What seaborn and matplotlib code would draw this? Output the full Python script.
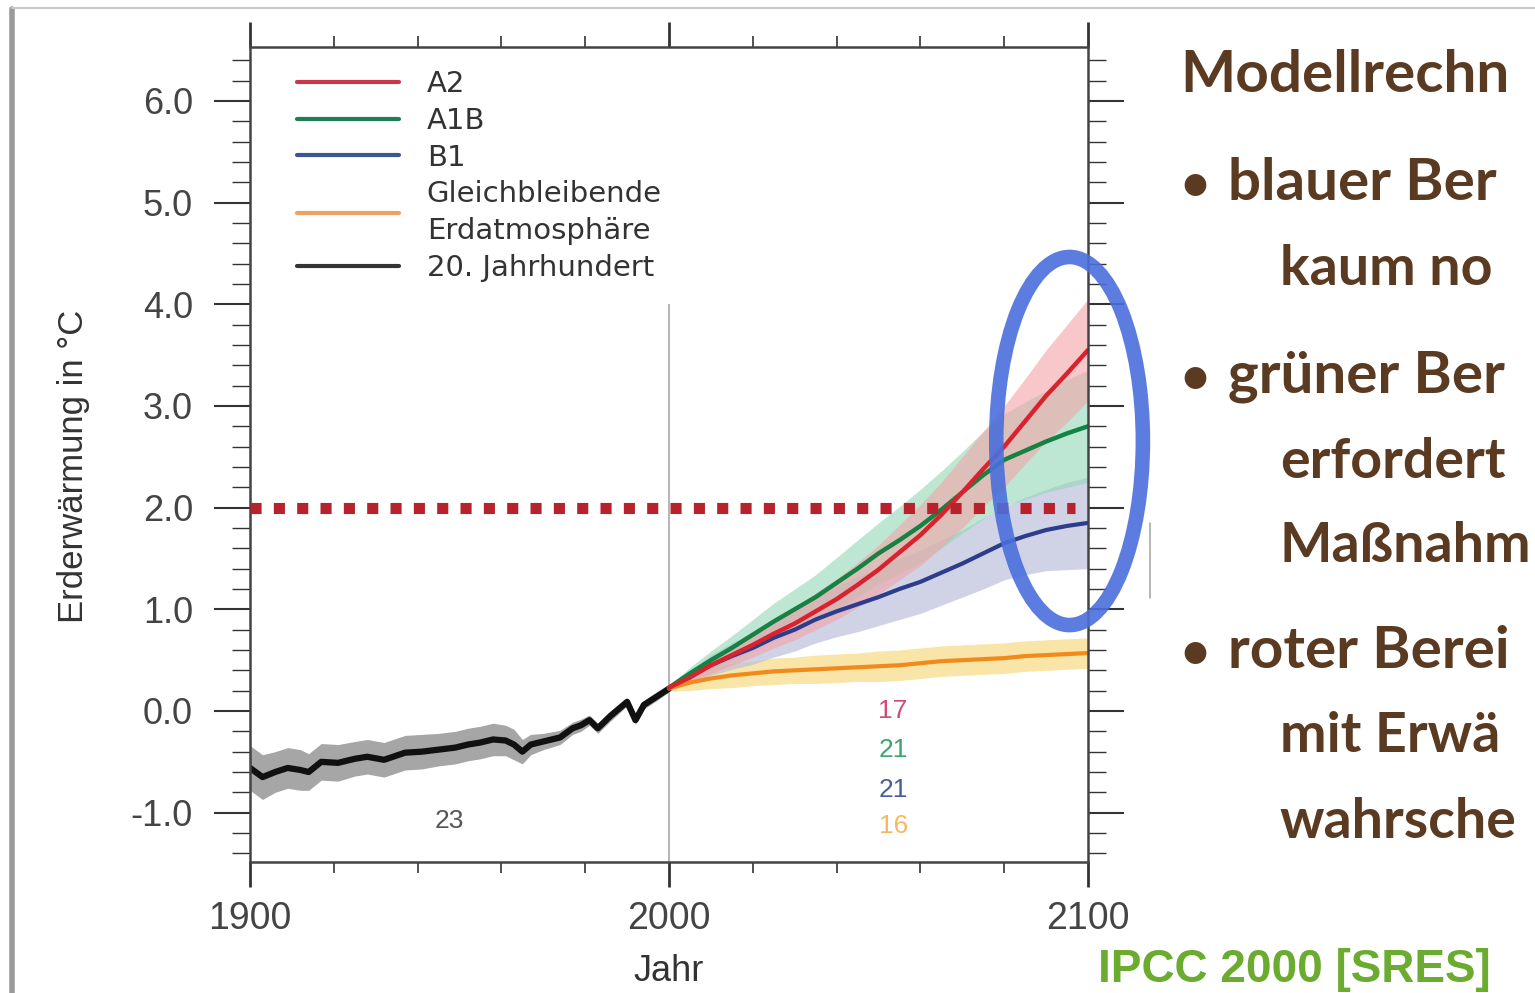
import matplotlib
matplotlib.use("Agg")
import matplotlib.pyplot as plt
import matplotlib.ticker as mticker
from matplotlib.patches import Ellipse
from matplotlib.lines import Line2D
import seaborn as sns
import pandas as pd
import numpy as np

sns.set_theme(style="ticks")
plt.rcParams["font.family"] = ["Liberation Sans", "DejaVu Sans"]

# 20th century observations / model runs
hist_years = [1900, 1903, 1906, 1909, 1912, 1914, 1917, 1921, 1925, 1928, 1932, 1937,
              1941, 1945, 1949, 1952, 1955, 1958, 1961, 1963, 1965, 1967, 1970, 1974,
              1977, 1979, 1981, 1983, 1986, 1990, 1992, 1994, 1997, 2000]
hist_mean = [-0.56, -0.65, -0.60, -0.56, -0.58, -0.60, -0.50, -0.51, -0.47, -0.45, -0.48, -0.41,
             -0.40, -0.38, -0.36, -0.33, -0.31, -0.28, -0.29, -0.33, -0.40, -0.33, -0.30, -0.26,
             -0.17, -0.14, -0.09, -0.17, -0.05, 0.09, -0.09, 0.06, 0.14, 0.22]
hist_spread = [0.22, 0.22, 0.20, 0.20, 0.20, 0.18, 0.18, 0.18, 0.17, 0.17, 0.17, 0.17,
               0.17, 0.16, 0.16, 0.16, 0.16, 0.16, 0.15, 0.15, 0.12, 0.10, 0.08, 0.07,
               0.06, 0.06, 0.05, 0.05, 0.05, 0.04, 0.04, 0.04, 0.04, 0.03]

# scenario projections
proj_years = [2000, 2005, 2010, 2015, 2020, 2025, 2030, 2035, 2040, 2045, 2050,
              2055, 2060, 2065, 2070, 2075, 2080, 2085, 2090, 2095, 2100]
a2_mean = [0.23, 0.33, 0.45, 0.55, 0.65, 0.76, 0.86, 0.98, 1.10, 1.24, 1.39,
           1.56, 1.73, 1.93, 2.15, 2.38, 2.60, 2.85, 3.10, 3.32, 3.55]
a2_spread = [0.02, 0.05, 0.08, 0.10, 0.12, 0.14, 0.16, 0.18, 0.20, 0.22, 0.24,
             0.27, 0.30, 0.32, 0.35, 0.37, 0.40, 0.42, 0.45, 0.48, 0.50]
a1b_mean = [0.23, 0.37, 0.50, 0.62, 0.75, 0.88, 1.00, 1.12, 1.26, 1.40, 1.55,
            1.68, 1.82, 1.98, 2.15, 2.32, 2.47, 2.56, 2.65, 2.73, 2.80]
a1b_spread = [0.02, 0.06, 0.09, 0.12, 0.15, 0.18, 0.20, 0.22, 0.25, 0.28, 0.30,
              0.33, 0.36, 0.38, 0.40, 0.43, 0.45, 0.48, 0.50, 0.53, 0.55]
b1_mean = [0.23, 0.34, 0.45, 0.54, 0.62, 0.72, 0.80, 0.90, 0.98, 1.05, 1.12,
           1.20, 1.27, 1.36, 1.45, 1.55, 1.65, 1.72, 1.78, 1.82, 1.85]
b1_spread = [0.02, 0.06, 0.10, 0.13, 0.16, 0.19, 0.21, 0.23, 0.25, 0.27, 0.28,
             0.30, 0.31, 0.32, 0.33, 0.35, 0.36, 0.38, 0.40, 0.43, 0.45]
const_mean = [0.22, 0.28, 0.32, 0.35, 0.37, 0.39, 0.40, 0.41, 0.42, 0.43, 0.44,
              0.45, 0.47, 0.49, 0.50, 0.51, 0.52, 0.54, 0.55, 0.56, 0.57]
const_spread = [0.02, 0.08, 0.10, 0.12, 0.12, 0.13, 0.13, 0.14, 0.14, 0.14, 0.15,
                0.15, 0.15, 0.15, 0.15, 0.15, 0.15, 0.15, 0.15, 0.15, 0.15]

model_counts = ["17", "21", "21", "16"]
hist_count = "23"
target_warming = 2.0

legend_labels = ["A2", "A1B", "B1", "Gleichbleibende\nErdatmosphäre", "20. Jahrhundert"]

bullets = [
    ("Modellrechn", False, 0),
    ("blauer Ber", True, 1),
    ("kaum no", False, 2),
    ("grüner Ber", True, 3),
    ("erfordert", False, 4),
    ("Maßnahm", False, 5),
    ("roter Berei", True, 6),
    ("mit Erwä", False, 7),
    ("wahrsche", False, 8),
]

line_colors = {"A2": "#d8232f", "A1B": "#158244", "B1": "#2c3d8c",
               "const": "#f08a1c", "hist": "#111111"}
band_colors = {"A2": "#f4a3a8", "A1B": "#93d8b6", "B1": "#bcc0dc",
               "const": "#f6d46e", "hist": "#9c9c9c"}

fig = plt.figure(figsize=(15.35, 9.93), dpi=100)
W, H = 1535, 993
ax = fig.add_axes([250 / W, 1 - 862 / H, 838 / W, 815 / H])

# bands
ax.fill_between(hist_years, np.array(hist_mean) - np.array(hist_spread),
                np.array(hist_mean) + np.array(hist_spread),
                color=band_colors["hist"], alpha=0.9, lw=0)
for key, mean, spread, a in [("const", const_mean, const_spread, 0.6),
                             ("B1", b1_mean, b1_spread, 0.7),
                             ("A1B", a1b_mean, a1b_spread, 0.6),
                             ("A2", a2_mean, a2_spread, 0.6)]:
    m = np.array(mean)
    s = np.array(spread)
    ax.fill_between(proj_years, m - s, m + s, color=band_colors[key], alpha=a, lw=0)

# vertical line at 2000
ax.vlines(proj_years[0], -1.5, 4.0, color="#b0b0b0", lw=1.3, zorder=1)

# lines
hist_df = pd.DataFrame({"Jahr": hist_years, "T": hist_mean})
sns.lineplot(data=hist_df, x="Jahr", y="T", color=line_colors["hist"], lw=4.5, ax=ax)
for key, mean, lw in [("const", const_mean, 3), ("B1", b1_mean, 3),
                      ("A1B", a1b_mean, 3.2), ("A2", a2_mean, 3.2)]:
    df = pd.DataFrame({"Jahr": proj_years, "T": mean})
    sns.lineplot(data=df, x="Jahr", y="T", color=line_colors[key], lw=lw, ax=ax)

# 2 degree target line
ax.hlines(target_warming, hist_years[0], 2097, color="#b8222b", lw=8,
          linestyles=[(0, (1, 1.1))], zorder=5)

# model counts
count_colors = ["#d44a72", "#3aa56e", "#4a5a9e", "#f5b860"]
for label, yv, c in zip(model_counts, [0.0, -0.38, -0.78, -1.13], count_colors):
    ax.text(2053.5, yv, label, color=c, fontsize=19, ha="center", va="center")
ax.text(1947.5, -1.08, hist_count, color="#555555", fontsize=19, ha="center", va="center")

# highlight ellipse
ax.add_patch(Ellipse((2095.6, 2.655), 35, 3.62, fill=False, edgecolor="#4a6fdc",
                     lw=10.5, alpha=0.9, clip_on=False, zorder=6))

ax.set_xlim(1900, 2100)
ax.set_ylim(-1.485, 6.53)
ax.set_xticks([1900, 2000, 2100])
ax.xaxis.set_minor_locator(mticker.MultipleLocator(20))
ax.set_yticks([-1, 0, 1, 2, 3, 4, 5, 6])
ax.yaxis.set_major_formatter(mticker.FormatStrFormatter("%.1f"))
ax.yaxis.set_minor_locator(mticker.MultipleLocator(0.2))
ax.tick_params(axis="both", which="both", direction="out", top=True, right=True,
               color="#333333")
ax.tick_params(axis="y", which="major", length=26, width=1.5, labelsize=26,
               labelcolor="#444444", pad=15)
ax.tick_params(axis="y", which="minor", length=13, width=1.0)
ax.tick_params(axis="x", which="major", length=18, width=2.0, labelsize=27,
               labelcolor="#444444", pad=10)
ax.tick_params(axis="x", which="minor", length=8, width=1.2)
for sp in ax.spines.values():
    sp.set_color("#444444")
    sp.set_linewidth(1.8)

ax.set_xlabel("Jahr", fontsize=26, color="#333333", labelpad=12)
ax.set_ylabel("Erderwärmung in °C", fontsize=25, color="#333333")
ax.yaxis.set_label_coords(-0.191, 0.485)

# legend
handles = [Line2D([], [], color=c, lw=3) for c in
           ["#c8374a", "#1e7e55", "#3d5590", "#f0a060", "#333333"]]
leg = fig.legend(handles, legend_labels, loc="upper left",
                 bbox_to_anchor=(297 / W, 1 - 70 / H), frameon=False,
                 prop={"family": "DejaVu Sans", "size": 21},
                 handlelength=3.5, handletextpad=0.95, labelspacing=0.3,
                 borderpad=0, borderaxespad=0)
for t in leg.get_texts():
    t.set_color("#333333")
    t.set_linespacing(1.4)

# slide text on the right
brown = "#5b3a22"
base_y = [92, 200, 285, 393, 478, 562, 668, 752, 838]
for (txt, is_bullet, i) in bullets:
    yy = 1 - base_y[i] / H
    if i == 0:
        fig.text(1180 / W, yy, txt, fontsize=42, fontweight="bold", color=brown,
                 family="Lato", va="baseline")
    elif is_bullet:
        fig.text(1180 / W, yy, "•", fontsize=36, fontweight="bold", color=brown,
                 family="Lato", va="baseline")
        fig.text(1228 / W, yy, txt, fontsize=42, fontweight="bold", color=brown,
                 family="Lato", va="baseline")
    else:
        fig.text(1280 / W, yy, txt, fontsize=40, fontweight="bold", color=brown,
                 family="Lato", va="baseline")

fig.text(1098 / W, 1 - 982 / H, "IPCC 2000 [SRES]", fontsize=33, fontweight="bold",
         color="#6aab30", va="baseline")

# slide frame bits
fig.add_artist(Line2D([12 / W, 12 / W], [0, 1 - 9 / H], color="#9a9a9a", lw=4))
fig.add_artist(Line2D([12 / W, 1], [1 - 8 / H, 1 - 8 / H], color="#c8c8c8", lw=1.5))
fig.add_artist(Line2D([1150 / W, 1150 / W], [1 - 598 / H, 1 - 523 / H], color="#aaaaaa", lw=1.2))

fig.savefig("out.png", dpi=100)
